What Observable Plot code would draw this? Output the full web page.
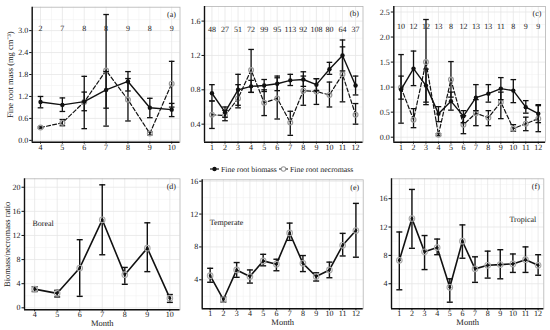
<!DOCTYPE html>
<html>
<head>
<meta charset="utf-8">
<script src="https://cdn.jsdelivr.net/npm/d3@7"></script>
<script src="https://cdn.jsdelivr.net/npm/@observablehq/plot@0.6"></script>
<style>
  html, body { margin: 0; padding: 0; background: #fff; }
  #chart { position: relative; width: 550px; height: 330px; overflow: hidden; background: #fff; }
  #chart svg text { text-rendering: geometricPrecision; }
</style>
</head>
<body>
<div id="chart"></div>
<script>
// ---------- DATA ----------
const monthsBoreal = [4, 5, 6, 7, 8, 9, 10];
const monthsYear = [1, 2, 3, 4, 5, 6, 7, 8, 9, 10, 11, 12];

// (a) Boreal
const nA = [2, 7, 8, 8, 9, 8, 9];
const bioA = [1.05, 0.97, 1.06, 1.38, 1.61, 0.89, 0.84];
const bioA_lo = [0.89, 0.79, 0.81, 0.88, 1.35, 0.62, 0.65];
const bioA_hi = [1.20, 1.16, 1.32, 1.88, 1.88, 1.15, 1.01];
const necA = [0.35, 0.48, 1.05, 1.91, 1.11, 0.19, 1.55];
const necA_lo = [0.33, 0.40, 0.32, 0.39, 0.53, 0.15, 0.91];
const necA_hi = [0.37, 0.57, 1.75, 3.44, 1.69, 0.23, 2.16];

// (b) Temperate
const nB = [48, 27, 51, 72, 99, 95, 113, 92, 108, 80, 64, 37];
const bioB = [0.76, 0.54, 0.80, 0.84, 0.85, 0.87, 0.91, 0.92, 0.86, 1.04, 1.20, 0.85];
const bioB_lo = [0.67, 0.48, 0.62, 0.77, 0.78, 0.79, 0.85, 0.84, 0.79, 0.98, 1.02, 0.74];
const bioB_hi = [0.86, 0.60, 0.98, 0.91, 0.92, 0.96, 0.98, 1.01, 0.93, 1.12, 1.38, 0.96];
const necB = [0.51, 0.50, 0.70, 1.03, 0.65, 0.70, 0.42, 0.79, 0.78, 0.74, 0.98, 0.51];
const necB_lo = [0.35, 0.44, 0.59, 0.77, 0.50, 0.46, 0.27, 0.62, 0.63, 0.60, 0.66, 0.40];
const necB_hi = [0.67, 0.56, 0.86, 1.27, 0.80, 0.94, 0.55, 0.96, 0.93, 0.89, 1.30, 0.64];

// (c) Tropical
const nC = [10, 12, 12, 13, 8, 12, 13, 13, 11, 8, 9, 9];
const bioC = [0.95, 1.37, 1.03, 0.47, 0.72, 0.42, 0.79, 0.87, 0.97, 0.93, 0.60, 0.47];
const bioC_lo = [0.28, 1.03, 0.70, 0.31, 0.54, 0.29, 0.53, 0.70, 0.75, 0.69, 0.48, 0.29];
const bioC_hi = [1.65, 1.72, 1.36, 0.61, 0.90, 0.53, 1.05, 1.05, 1.19, 1.15, 0.73, 0.65];
const necC = [0.99, 0.35, 1.50, 0.05, 1.15, 0.25, 0.48, 0.39, 0.70, 0.17, 0.27, 0.37];
const necC_lo = [0.76, 0.19, 0.65, 0.03, 0.80, 0.07, 0.23, 0.23, 0.37, 0.12, 0.13, 0.11];
const necC_hi = [1.22, 0.57, 2.35, 0.07, 1.51, 0.43, 0.75, 0.53, 0.90, 0.25, 0.40, 0.63];

// (d) Boreal ratio
const ratioD = [3.1, 2.4, 6.6, 14.6, 5.5, 9.9, 1.6];
const ratioD_lo = [2.7, 1.8, 1.9, 8.8, 3.9, 6.0, 0.9];
const ratioD_hi = [3.5, 2.9, 11.3, 20.4, 6.7, 14.1, 2.2];

// (e) Temperate ratio
const ratioE = [4.5, 1.6, 5.2, 4.4, 6.3, 5.9, 9.7, 6.0, 4.4, 5.2, 8.2, 10.0];
const ratioE_lo = [3.7, 1.3, 4.3, 3.6, 5.7, 5.1, 8.8, 5.0, 3.85, 4.25, 6.9, 6.75];
const ratioE_hi = [5.4, 1.9, 6.1, 5.2, 7.1, 6.5, 10.9, 6.95, 4.85, 6.15, 9.65, 13.3];

// (f) Tropical ratio
const ratioF = [7.3, 13.2, 8.5, 9.1, 3.5, 10.0, 6.1, 6.6, 6.7, 6.8, 7.4, 6.6];
const ratioF_lo = [3.15, 9.0, 6.0, 8.1, 1.4, 7.6, 4.2, 4.8, 4.7, 5.6, 5.6, 5.2];
const ratioF_hi = [11.3, 17.3, 10.8, 10.3, 4.7, 12.3, 7.8, 8.6, 8.8, 8.2, 9.2, 8.1];

// tick labels
const ticksA = [0, 0.6, 1.2, 1.8, 2.4, 3.0];
const ticksB = [0.4, 0.8, 1.2, 1.6];
const ticksC = [0, 0.5, 1.0, 1.5, 2.0, 2.5];
const ticksD = [0, 4, 8, 12, 16, 20];
const ticksE = [4, 8, 12, 16];
const ticksF = [4, 8, 12, 16];

const legendLabels = ["Fine root biomass", "Fine root necromass"];

// ---------- HELPERS ----------
const serif = "'Liberation Serif','Times New Roman',Times,serif";
const rows = (months, v, lo, hi, n) => months.map((m, i) => ({m, v: v[i], lo: lo[i], hi: hi[i], n: n ? n[i] : null}));
const cap = {draw(ctx, size) { const w = Math.sqrt(size / Math.PI); ctx.moveTo(-w, 0); ctx.lineTo(w, 0); }};
const mids = (t) => { const s = t[1] - t[0]; const out = []; for (let v = t[0] - s / 2; v <= t[t.length - 1] + s / 2 + 1e-9; v += s) out.push(+v.toFixed(4)); return out; };

const chart = document.getElementById("chart");

function errorMarks(data, opts) {
  return [
    Plot.ruleX(data, {x: "m", y1: "lo", y2: "hi", stroke: "#111", strokeWidth: opts.ew}),
    Plot.dot(data, {x: "m", y: "lo", symbol: cap, r: opts.cap, stroke: "#111", strokeWidth: opts.ew}),
    Plot.dot(data, {x: "m", y: "hi", symbol: cap, r: opts.cap, stroke: "#111", strokeWidth: opts.ew})
  ];
}

function panel(cfg) {
  const {L, T, W, H, fx0, fx1, fy0, fy1, xDomain, yDomain, xTicks, yTicks, fmt} = cfg;
  const xMinor = xTicks.slice(0, -1).map(d => d + 0.5);
  const yMinor = mids(yTicks).filter(v => v > yDomain[0] && v < yDomain[1]);
  const marks = [
    Plot.gridY(yMinor, {stroke: "#f2f2f2", strokeOpacity: 1, strokeWidth: 0.6}),
    Plot.gridX(xMinor, {stroke: "#f2f2f2", strokeOpacity: 1, strokeWidth: 0.6}),
    Plot.gridY(yTicks, {stroke: "#e6e6e6", strokeOpacity: 1, strokeWidth: 0.8}),
    Plot.gridX(xTicks, {stroke: "#e6e6e6", strokeOpacity: 1, strokeWidth: 0.8}),
    Plot.frame({stroke: "#b5b5b5", strokeWidth: 0.8}),
    Plot.ruleX([xDomain[0]], {stroke: "#111", strokeWidth: 1.4}),
    Plot.ruleY([yDomain[0]], {stroke: "#111", strokeWidth: 1.4}),
    Plot.axisX(xTicks, {tickSize: 2, tickPadding: 0, tickFormat: d => d, label: null, stroke: "#111", fill: "#222"}),
    Plot.axisY(yTicks, {tickSize: 2.5, tickPadding: 1.5, tickFormat: fmt, label: null, stroke: "#111", fill: "#222"}),
    ...cfg.marks
  ];
  const svg = Plot.plot({
    width: W, height: H,
    marginLeft: fx0 - L, marginRight: L + W - fx1,
    marginTop: fy0 - T, marginBottom: T + H - fy1,
    x: {type: "linear", domain: xDomain},
    y: {type: "linear", domain: yDomain},
    style: {fontFamily: serif, fontSize: "8px", background: "#fff", color: "#222", overflow: "visible"},
    marks
  });
  svg.style.position = "absolute";
  svg.style.left = L + "px";
  svg.style.top = T + "px";
  chart.appendChild(svg);
}

function massMarks(bio, nec, letter, labelDy) {
  return [
    Plot.line(nec, {x: "m", y: "v", stroke: "#111", strokeWidth: 1.2, strokeDasharray: "4,2.2"}),
    ...errorMarks(nec, {ew: 1.3, cap: 2.8}),
    Plot.dot(nec, {x: "m", y: "v", r: 2.4, stroke: "#9a9a9a", strokeWidth: 1.2, fill: "none"}),
    Plot.line(bio, {x: "m", y: "v", stroke: "#111", strokeWidth: 1.4}),
    ...errorMarks(bio, {ew: 1.3, cap: 2.8}),
    Plot.dot(bio, {x: "m", y: "v", r: 2.2, fill: "#111"}),
    Plot.text(bio, {x: "m", text: "n", frameAnchor: "top", lineAnchor: "middle", dy: labelDy, fill: "#222", fontSize: 8}),
    Plot.text([letter], {frameAnchor: "top-right", lineAnchor: "middle", dx: -4, dy: 7.3, fill: "#222", fontSize: 8})
  ];
}

function ratioMarks(data, letter, region, regionAnchor, rdx, rdy) {
  return [
    Plot.line(data, {x: "m", y: "v", stroke: "#111", strokeWidth: 1.6}),
    ...errorMarks(data, {ew: 1.4, cap: 3}),
    Plot.dot(data, {x: "m", y: "v", r: 1.4, fill: "#111"}),
    Plot.dot(data, {x: "m", y: "v", r: 2.8, stroke: "#a8a8a8", strokeWidth: 1.1, fill: "none"}),
    Plot.text([letter], {frameAnchor: "top-right", lineAnchor: "middle", dx: -4, dy: 7.5, fill: "#222", fontSize: 8}),
    Plot.text([region], {frameAnchor: regionAnchor, lineAnchor: "middle", dx: rdx, dy: rdy, fill: "#222", fontSize: 8}),
    Plot.text(["Month"], {frameAnchor: "bottom", lineAnchor: "middle", dy: 13.5, fill: "#222", fontSize: 8.5})
  ];
}

const f1 = d3.format(".1f");
const f0 = d => String(d);

// ---------- TOP ROW ----------
panel({
  L: 0, T: 0, W: 184, H: 160, fx0: 31.7, fx1: 179.5, fy0: 6.7, fy1: 141.7,
  xDomain: [3.62, 10.38], yDomain: [-0.05, 3.64], xTicks: monthsBoreal, yTicks: ticksA, fmt: f1,
  marks: [
    ...massMarks(rows(monthsBoreal, bioA, bioA_lo, bioA_hi, nA), rows(monthsBoreal, necA, necA_lo, necA_hi), "(a)", 20.8),
    Plot.text(["Fine root mass (mg cm⁻³)"], {frameAnchor: "left", textAnchor: "middle", lineAnchor: "middle", dx: -21.5, rotate: -90, fill: "#222", fontSize: 8.5})
  ]
});
panel({
  L: 184, T: 0, W: 182, H: 160, fx0: 204, fx1: 362.5, fy0: 6, fy1: 141.7,
  xDomain: [0.43, 12.57], yDomain: [0.19, 1.77], xTicks: monthsYear, yTicks: ticksB, fmt: f1,
  marks: massMarks(rows(monthsYear, bioB, bioB_lo, bioB_hi, nB), rows(monthsYear, necB, necB_lo, necB_hi), "(b)", 23.3)
});
panel({
  L: 366, T: 0, W: 184, H: 160, fx0: 393.3, fx1: 545, fy0: 6, fy1: 141.7,
  xDomain: [0.42, 12.58], yDomain: [-0.1, 2.61], xTicks: monthsYear, yTicks: ticksC, fmt: f1,
  marks: massMarks(rows(monthsYear, bioC, bioC_lo, bioC_hi, nC), rows(monthsYear, necC, necC_lo, necC_hi), "(c)", 19.5)
});

// ---------- BOTTOM ROW ----------
panel({
  L: 0, T: 172, W: 184, H: 158, fx0: 24, fx1: 179.5, fy0: 178.3, fy1: 309.3,
  xDomain: [3.55, 10.45], yDomain: [-0.33, 21.4], xTicks: monthsBoreal, yTicks: ticksD, fmt: f0,
  marks: [
    ...ratioMarks(rows(monthsBoreal, ratioD, ratioD_lo, ratioD_hi), "(d)", "Boreal", "top-left", 8, 44.4),
    Plot.text(["Biomass/necromass ratio"], {frameAnchor: "left", textAnchor: "middle", lineAnchor: "middle", dx: -17, rotate: -90, fill: "#222", fontSize: 8.5})
  ]
});
panel({
  L: 184, T: 172, W: 182, H: 158, fx0: 201.7, fx1: 362.7, fy0: 179.3, fy1: 308.3,
  xDomain: [0.4, 12.55], yDomain: [0.47, 16.17], xTicks: monthsYear, yTicks: ticksE, fmt: f0,
  marks: ratioMarks(rows(monthsYear, ratioE, ratioE_lo, ratioE_hi), "(e)", "Temperate", "top-left", 7.5, 42.4)
});
panel({
  L: 366, T: 172, W: 184, H: 158, fx0: 391, fx1: 543.3, fy0: 178.3, fy1: 308.3,
  xDomain: [0.38, 12.45], yDomain: [0.47, 18.8], xTicks: monthsYear, yTicks: ticksF, fmt: f0,
  marks: ratioMarks(rows(monthsYear, ratioF, ratioF_lo, ratioF_hi), "(f)", "Tropical", "top-right", -7.5, 40.4)
});

// ---------- LEGEND ----------
const leg = d3.create("svg").attr("width", 170).attr("height", 14)
  .style("position", "absolute").style("left", "204px").style("top", "162px")
  .style("font-family", serif).style("font-size", "7.8px");
const items = [
  {x: 6, dash: null, fill: "#111", stroke: "none"},
  {x: 75, dash: "2,1.5", fill: "none", stroke: "#9a9a9a"}
];
items.forEach((it, i) => {
  leg.append("line").attr("x1", it.x).attr("x2", it.x + 9).attr("y1", 7).attr("y2", 7)
    .attr("stroke", "#111").attr("stroke-width", 1.2).attr("stroke-dasharray", it.dash);
  leg.append("circle").attr("cx", it.x + 4.5).attr("cy", 7).attr("r", 2.2)
    .attr("fill", it.fill === "none" ? "#fff" : it.fill).attr("stroke", it.stroke).attr("stroke-width", 1.1);
  leg.append("text").attr("x", it.x + 11).attr("y", 9.7).attr("fill", "#222").text(legendLabels[i]);
});
chart.appendChild(leg.node());
</script>
</body>
</html>
